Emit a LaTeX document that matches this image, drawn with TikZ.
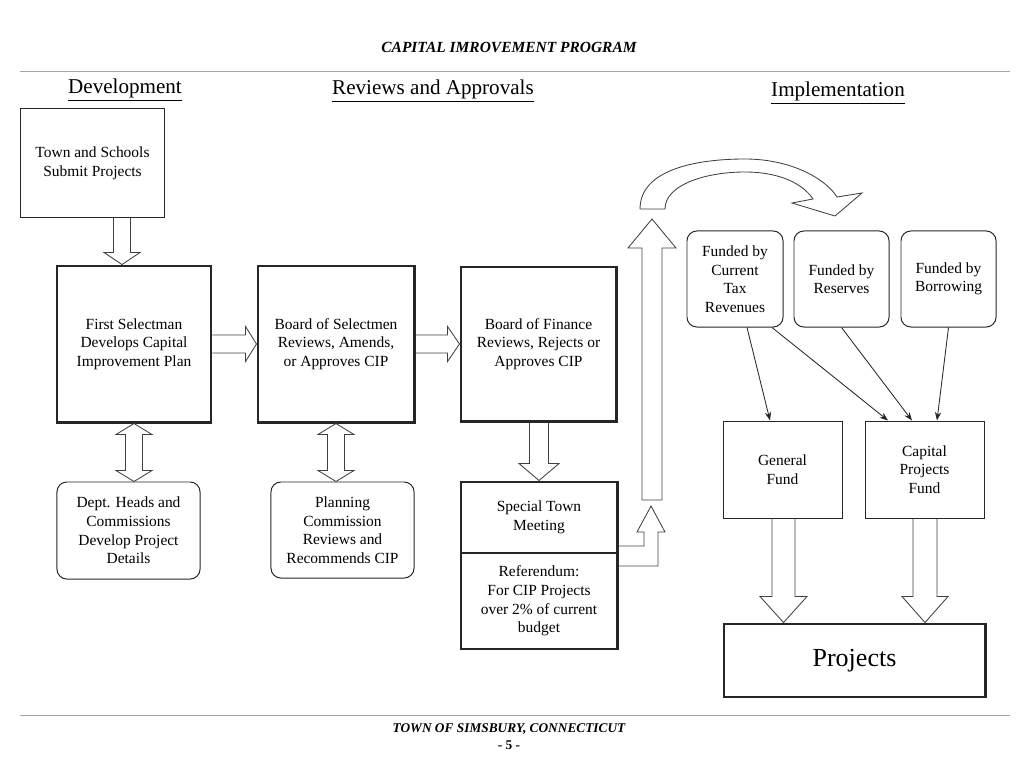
\documentclass[tikz,border=0pt]{standalone}
\usepackage{fontspec}
\setmainfont{Liberation Serif}
\usetikzlibrary{calc,arrows.meta}

\tikzset{
  plainbox/.style={draw=black!85, line width=0.7pt, align=center, inner sep=2pt,
    font=\fontsize{11}{13.2}\selectfont},
  heavybox/.style={plainbox, line width=2.1pt},
  softbox/.style={plainbox, rounded corners=7pt},
  hollow/.style={draw=black!75, line width=0.6pt, line join=miter},
  flow/.style={draw=black!85, line width=0.6pt, -{Stealth[length=6pt,width=4.5pt]}},
  heading/.style={font=\fontsize{15}{18}\selectfont},
  pagerule/.style={draw=black!35, line width=0.6pt}
}

% hollow arrows: x (or y), from anchor, to anchor, shaft half width, head half width, head length
\newcommand{\fatdown}[6]{%
  \draw[hollow] ($(#1,0 |- #2)+(-#4,0)$) -- ($(#1,0 |- #3)+(-#4,-#6)$)
    -- ($(#1,0 |- #3)+(-#5,-#6)$) -- (#1,0 |- #3)
    -- ($(#1,0 |- #3)+(#5,-#6)$) -- ($(#1,0 |- #3)+(#4,-#6)$)
    -- ($(#1,0 |- #2)+(#4,0)$);}
\newcommand{\fatright}[6]{%
  \draw[hollow] ($(#2 |- 0,#1)+(0,-#4)$) -- ($(#3 |- 0,#1)+(-#6,-#4)$)
    -- ($(#3 |- 0,#1)+(-#6,-#5)$) -- (#3 |- 0,#1)
    -- ($(#3 |- 0,#1)+(-#6,#5)$) -- ($(#3 |- 0,#1)+(-#6,#4)$)
    -- ($(#2 |- 0,#1)+(0,#4)$);}
\newcommand{\fatboth}[6]{%
  \draw[hollow] (#1,0 |- #2) -- ($(#1,0 |- #2)+(#5,#6)$) -- ($(#1,0 |- #2)+(#4,#6)$)
    -- ($(#1,0 |- #3)+(#4,-#6)$) -- ($(#1,0 |- #3)+(#5,-#6)$) -- (#1,0 |- #3)
    -- ($(#1,0 |- #3)+(-#5,-#6)$) -- ($(#1,0 |- #3)+(-#4,-#6)$)
    -- ($(#1,0 |- #2)+(-#4,#6)$) -- ($(#1,0 |- #2)+(-#5,#6)$) -- cycle;}

\begin{document}
\begin{tikzpicture}[x=0.025cm, y=-0.025cm]
  \useasboundingbox (0,0) rectangle (1024,762);

  % page header and footer
  \node[font=\fontsize{11}{13}\selectfont\bfseries\itshape] (pageTitle) at (509,47) {CAPITAL IMROVEMENT PROGRAM};
  \draw[pagerule] (20,71) -- (1010,71);
  \draw[pagerule] (20,715) -- (1010,715);
  \node[font=\fontsize{9.5}{11}\selectfont\bfseries\itshape] (pageTown) at (509,729) {TOWN OF SIMSBURY, CONNECTICUT};
  \node[font=\fontsize{9.5}{11}\selectfont\bfseries] (pageNumber) at (509,745) {- 5 -};

  % column headings
  \node[heading] (headDevelopment) at (125,90) {\underline{Development}};
  \node[heading] (headReviews) at (433,91) {\underline{Reviews and Approvals}};
  \node[heading] (headImplementation) at (838,93) {\underline{Implementation}};

  % Development:
  %   submission, plan and project details
  \node[plainbox, minimum width=3.575cm, minimum height=2.7cm] (townSchools) at (92.5,163)
    {Town and Schools\\Submit Projects};
  \node[heavybox, minimum width=3.85cm, minimum height=3.9cm] (firstSelectman) at (134,344)
    {First Selectman\\Develops Capital\\Improvement Plan};
  \node[softbox, minimum width=3.575cm, minimum height=2.425cm] (deptHeads) at (128.5,530.5)
    {Dept. Heads and\\Commissions\\Develop Project\\Details};

  % Reviews and Approvals:
  %   selectmen, planning, finance, town meeting
  \node[heavybox, minimum width=3.9cm, minimum height=3.9cm] (boardSelectmen) at (336,344)
    {Board of Selectmen\\Reviews, Amends,\\or Approves CIP};
  \node[softbox, minimum width=3.575cm, minimum height=2.4cm] (planningComm) at (342.5,530)
    {Planning\\Commission\\Reviews and\\Recommends CIP};
  \node[heavybox, minimum width=3.875cm, minimum height=3.85cm] (boardFinance) at (538.5,344)
    {Board of Finance\\Reviews, Rejects or\\Approves CIP};
  \node[heavybox, minimum width=3.9cm, minimum height=1.775cm] (townMeeting) at (539,517.5)
    {Special Town\\Meeting};
  \node[heavybox, minimum width=3.9cm, minimum height=2.4cm] (referendum) at (539,601)
    {Referendum:\\For CIP Projects\\over 2\% of current\\budget};

  % Implementation:
  %   funding sources, funds and projects
  \node[softbox, minimum width=2.4cm, minimum height=2.4cm] (fundCurrent) at (735,279)
    {Funded by\\Current\\Tax\\Revenues};
  \node[softbox, minimum width=2.375cm, minimum height=2.4cm] (fundReserves) at (841.5,279)
    {Funded by\\Reserves};
  \node[softbox, minimum width=2.375cm, minimum height=2.4cm] (fundBorrowing) at (948.5,279)
    {Funded by\\Borrowing};
  \node[plainbox, minimum width=2.975cm, minimum height=2.425cm] (generalFund) at (782.5,469.5)
    {General\\Fund};
  \node[plainbox, minimum width=2.975cm, minimum height=2.425cm] (capitalFund) at (924.5,469.5)
    {Capital\\Projects\\Fund};
  \node[heavybox, minimum width=6.525cm, minimum height=1.825cm, font=\fontsize{18.5}{22}\selectfont] (projects) at (854.5,660.5)
    {Projects};

  % hollow arrows between the boxes
  \fatdown{122}{townSchools.south}{firstSelectman.north}{8.5}{18}{12}
  \fatright{344}{firstSelectman.east}{boardSelectmen.west}{9}{17.5}{11}
  \fatright{344}{boardSelectmen.east}{boardFinance.west}{9}{17.5}{12}
  \fatboth{134}{firstSelectman.south}{deptHeads.north}{8.5}{18}{11}
  \fatboth{336}{boardSelectmen.south}{planningComm.north}{8.5}{18}{11}
  \fatdown{539}{boardFinance.south}{townMeeting.north}{9.5}{20}{17}
  \fatdown{783.5}{generalFund.south}{projects.north}{11.5}{23.5}{26}
  \fatdown{925}{capitalFund.south}{projects.north}{12}{23}{26}

  % meeting and referendum lead up to implementation
  \coordinate (liftFoot) at (651,506);
  \draw[hollow] (townMeeting.east |- 0,546) -- (644,546) -- (644,532) -- (637,532) -- (liftFoot)
    -- (665,532) -- (658,532) -- (658,566) -- (referendum.east |- 0,566);
  \draw[hollow] (642,500) -- (642,248) -- (628,248) -- (652,219) -- (676,248) -- (662,248) -- (662,500) -- cycle;
  \draw[hollow] (640,209) .. controls (640,170) and (695,159) .. (745,159)
    .. controls (790,159) and (825,178) .. (837,197) -- (862,193) -- (835,216) -- (792,203) -- (813,199)
    .. controls (803,184) and (780,172) .. (745,172)
    .. controls (705,172) and (665,185) .. (665,209) -- cycle;

  % funding flows
  \draw[flow] ($(fundCurrent.south)+(12,0)$) -- ($(generalFund.north)+(-12.5,0)$);
  \draw[flow] ($(fundCurrent.south)+(37,0)$) -- ($(capitalFund.north)+(-36.5,0)$);
  \draw[flow] (fundReserves.south) -- ($(capitalFund.north)+(-12.5,0)$);
  \draw[flow] (fundBorrowing.south) -- ($(capitalFund.north)+(12.5,0)$);
\end{tikzpicture}
\end{document}
